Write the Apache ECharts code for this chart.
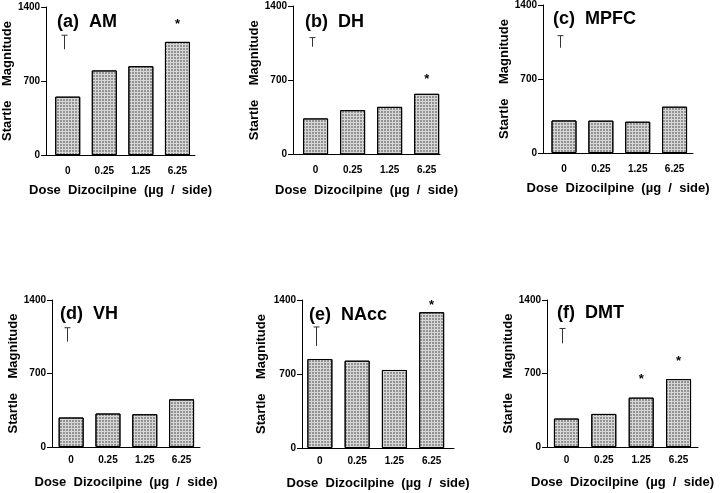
<!DOCTYPE html>
<html>
<head>
<meta charset="utf-8">
<script src="https://cdn.jsdelivr.net/npm/echarts@6/dist/echarts.min.js"></script>
<style>
  html, body { margin: 0; padding: 0; background: #fff; }
  #chart { width: 720px; height: 493px; }
</style>
</head>
<body>
<div id="chart"></div>
<script>
// dose categories on every x axis
const doseLabels = ['0', '0.25', '1.25', '6.25'];
const yTicks = [0, 700, 1400];

const panelTitles = ['(a)  AM', '(b)  DH', '(c)  MPFC', '(d)  VH', '(e)  NAcc', '(f)  DMT'];

// mean startle magnitude per dose
const amValues = [552, 800, 840, 1070];
const dhValues = [340, 418, 449, 572];
const mpfcValues = [308, 306, 296, 438];
const vhValues = [281, 319, 312, 454];
const naccValues = [842, 826, 738, 1284];
const dmtValues = [271, 315, 470, 647];

// the free-standing "T" (pooled SEM marker): [low, high]
const amSem = [1000, 1133];
const dhSem = [1016, 1102];
const mpfcSem = [996, 1110];
const vhSem = [1003, 1136];
const naccSem = [965, 1145];
const dmtSem = [987, 1129];

// significance stars: [dose index, height]
const amStars = [[3, 1238]];
const dhStars = [[3, 712]];
const mpfcStars = [];
const vhStars = [];
const naccStars = [[3, 1353]];
const dmtStars = [[2, 644], [3, 812]];

const values = [amValues, dhValues, mpfcValues, vhValues, naccValues, dmtValues];
const sems = [amSem, dhSem, mpfcSem, vhSem, naccSem, dmtSem];
const stars = [amStars, dhStars, mpfcStars, vhStars, naccStars, dmtStars];

// layout of each small panel (pixels) and x range in dose-index units
const layouts = [
    { left: 43, top: 7, width: 152, height: 148, xMin: -0.59, xMax: 3.48, titleX: 57, titleY: 13, yGap: 27, xMargin: 11 },
    { left: 293, top: 6, width: 147, height: 148.5, xMin: -0.61, xMax: 3.36, titleX: 305, titleY: 13, yGap: 28, xMargin: 11 },
    { left: 543, top: 5, width: 150, height: 148, xMin: -0.57, xMax: 3.5, titleX: 553, titleY: 10, yGap: 28, xMargin: 11 },
    { left: 52, top: 300, width: 148, height: 147, xMin: -0.52, xMax: 3.5, titleX: 60, titleY: 305, yGap: 30, xMargin: 8 },
    { left: 302, top: 300, width: 152, height: 148, xMin: -0.48, xMax: 3.6, titleX: 309, titleY: 306, yGap: 34, xMargin: 8 },
    { left: 547, top: 300, width: 151, height: 147, xMin: -0.52, xMax: 3.52, titleX: 557, titleY: 304, yGap: 23, xMargin: 8 }
];

const FONT = 'Liberation Sans, Arial, sans-serif';

const chart = echarts.init(document.getElementById('chart'));

const grids = [], xAxes = [], yAxes = [], titles = [], series = [];

layouts.forEach((lay, i) => {
    grids.push({ left: lay.left, top: lay.top, width: lay.width, height: lay.height });

    titles.push({
        text: panelTitles[i],
        left: lay.titleX,
        top: lay.titleY,
        padding: 0,
        textStyle: { fontFamily: FONT, fontSize: 18, fontWeight: 'bold', color: '#000' }
    });

    xAxes.push({
        type: 'value',
        gridIndex: i,
        min: lay.xMin,
        max: lay.xMax,
        splitLine: { show: false },
        axisTick: { show: false },
        axisLine: { onZero: false, lineStyle: { color: '#000', width: 1 } },
        axisLabel: {
            customValues: [0, 1, 2, 3],
            formatter: v => doseLabels[Math.round(v)],
            fontFamily: FONT, fontSize: 10, fontWeight: 'bold', color: '#000', margin: lay.xMargin
        },
        name: 'Dose  Dizocilpine  (\u00b5g  /  side)',
        nameLocation: 'middle',
        nameGap: 29,
        nameTextStyle: { fontFamily: FONT, fontSize: 13, fontWeight: 'bold', color: '#000' }
    });

    yAxes.push({
        type: 'value',
        gridIndex: i,
        min: yTicks[0],
        max: yTicks[2],
        interval: yTicks[1],
        splitLine: { show: false },
        axisLine: { show: true, onZero: false, lineStyle: { color: '#000', width: 1 } },
        axisTick: { show: true, length: 5, lineStyle: { color: '#000' } },
        axisLabel: {
            formatter: v => String(v),
            fontFamily: FONT, fontSize: 10, fontWeight: 'bold', color: '#000', margin: 6
        },
        name: 'Startle    Magnitude',
        nameLocation: 'middle',
        nameGap: lay.yGap,
        nameTextStyle: { fontFamily: FONT, fontSize: 13, fontWeight: 'bold', color: '#000' }
    });

    series.push({
        type: 'bar',
        xAxisIndex: i,
        yAxisIndex: i,
        barWidth: 25,
        data: values[i].map((v, k) => [k, v]),
        itemStyle: {
            color: '#d6d6d6',
            borderColor: '#000',
            borderWidth: 1,
            decal: {
                symbol: 'rect',
                symbolSize: 0.7,
                dashArrayX: [2, 1],
                dashArrayY: [2, 1],
                color: 'rgba(0,0,0,0.6)'
            }
        },
        emphasis: { disabled: true }
    });

    series.push({
        type: 'custom',
        xAxisIndex: i,
        yAxisIndex: i,
        data: [[0, sems[i][0], sems[i][1]]],
        renderItem: (params, api) => {
            const low = api.coord([api.value(0), api.value(1)]);
            const high = api.coord([api.value(0), api.value(2)]);
            const x = Math.round(low[0] - 4) + 0.5;
            return {
                type: 'group',
                children: [
                    { type: 'line', shape: { x1: x, y1: low[1], x2: x, y2: high[1] }, style: { stroke: '#333', lineWidth: 1 } },
                    { type: 'line', shape: { x1: x - 3, y1: high[1], x2: x + 3, y2: high[1] }, style: { stroke: '#333', lineWidth: 1 } }
                ]
            };
        }
    });

    if (stars[i].length) {
        series.push({
            type: 'custom',
            xAxisIndex: i,
            yAxisIndex: i,
            data: stars[i],
            renderItem: (params, api) => {
                const p = api.coord([api.value(0), api.value(1)]);
                return {
                    type: 'text',
                    x: p[0],
                    y: p[1],
                    style: {
                        text: '*',
                        fontFamily: FONT,
                        fontSize: 13,
                        fontWeight: 'bold',
                        fill: '#000',
                        align: 'center',
                        verticalAlign: 'middle'
                    }
                };
            }
        });
    }
});

chart.setOption({
    backgroundColor: '#fff',
    animation: false,
    title: titles,
    grid: grids,
    xAxis: xAxes,
    yAxis: yAxes,
    series: series
});
</script>
</body>
</html>
